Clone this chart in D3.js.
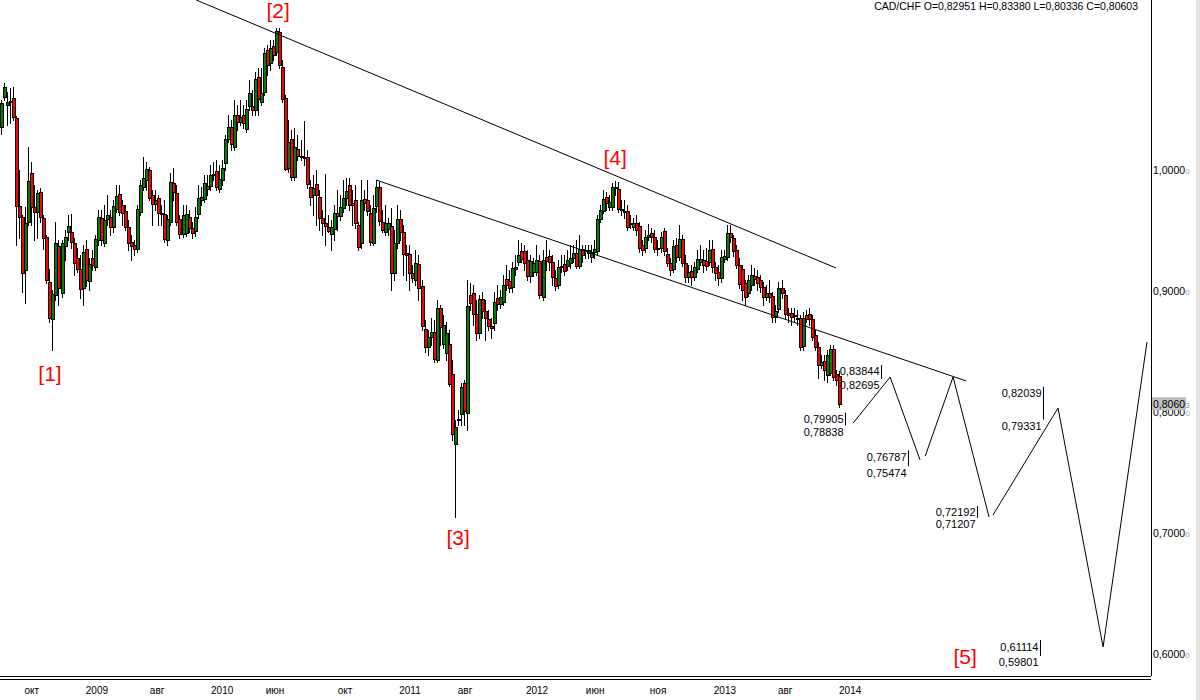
<!DOCTYPE html>
<html><head><meta charset="utf-8">
<script src="https://cdn.jsdelivr.net/npm/d3@7"></script>
<style>
html,body{margin:0;padding:0;background:#fff;}
svg{display:block;font-family:"Liberation Sans",Arial,sans-serif;}
</style></head><body>
<svg id="c" width="1200" height="700"></svg>
<script>
const symbol = "CAD/CHF";
const lastQuote = ["0,82951", "0,83380", "0,80336", "0,80603"];

const opens = [1.0351,1.0599,1.0534,1.0558,1.0591,1.0426,0.9698,0.9607,0.9170,0.9566,
0.9971,0.9690,0.9648,0.9814,0.9599,0.9442,0.9070,0.8765,0.8963,0.9368,
0.8979,0.9368,0.9483,0.9483,0.9393,0.9269,0.9178,0.9021,0.9344,0.9079,
0.9269,0.9194,0.9418,0.9599,0.9393,0.9591,0.9607,0.9525,0.9674,0.9798,
0.9707,0.9657,0.9525,0.9401,0.9377,0.9344,0.9648,0.9855,0.9913,0.9996,
0.9790,0.9715,0.9765,0.9640,0.9632,0.9418,0.9566,0.9888,0.9806,0.9591,
0.9467,0.9475,0.9607,0.9517,0.9492,0.9632,0.9748,0.9757,0.9863,0.9863,
0.9955,0.9988,0.9839,0.9913,1.0054,1.0253,1.0351,1.0186,1.0451,1.0392,
1.0451,1.0335,1.0525,1.0525,1.0492,1.0764,1.0558,1.0640,1.0988,1.0880,
1.1020,1.0971,1.1136,1.0847,1.0591,1.0013,1.0253,0.9938,1.0170,1.0111,
1.0103,1.0103,0.9855,0.9790,0.9880,0.9773,0.9599,0.9558,0.9525,0.9467,
0.9509,0.9640,0.9615,0.9682,0.9765,0.9872,0.9723,0.9748,0.9542,0.9393,
0.9757,0.9748,0.9640,0.9393,0.9698,0.9855,0.9566,0.9483,0.9509,0.9533,
0.9145,0.9393,0.9591,0.9483,0.9310,0.9302,0.9145,0.9087,0.9219,0.9037,
0.8682,0.8533,0.8616,0.8657,0.8426,0.8856,0.8558,0.8484,0.8558,0.8310,
0.7732,0.7938,0.7980,0.8236,0.7988,0.8963,0.8979,0.8806,0.8649,0.8930,
0.8831,0.8765,0.8706,0.8731,0.8938,0.8889,0.8905,0.9095,0.9079,0.9029,
0.9194,0.9235,0.9327,0.9327,0.9252,0.9120,0.9153,0.9153,0.9244,0.8946,
0.9277,0.9285,0.9235,0.9104,0.9046,0.9194,0.9219,0.9203,0.9227,0.9269,
0.9310,0.9203,0.9344,0.9335,0.9310,0.9277,0.9318,0.9327,0.9591,0.9657,
0.9773,0.9690,0.9690,0.9855,0.9839,0.9674,0.9657,0.9657,0.9558,0.9525,
0.9558,0.9533,0.9377,0.9352,0.9442,0.9475,0.9442,0.9352,0.9352,0.9492,
0.9302,0.9227,0.9178,0.9377,0.9277,0.9426,0.9227,0.9112,0.9161,0.9112,
0.9178,0.9235,0.9252,0.9244,0.9235,0.9344,0.9194,0.9153,0.9104,0.9261,
0.9277,0.9475,0.9434,0.9335,0.9211,0.9178,0.9062,0.8979,0.9046,0.9120,
0.9112,0.9087,0.9029,0.8946,0.8979,0.8954,0.8781,0.8848,0.9021,0.8963,
0.8814,0.8814,0.8798,0.8773,0.8773,0.8541,0.8798,0.8806,0.8765,0.8632,
0.8533,0.8385,0.8418,0.8302,0.8318,0.8517,0.8310,0.82951];

const highs = [1.0575,1.0715,1.0640,1.0674,1.0682,1.0442,0.9996,0.9624,0.9690,1.0186,
1.0062,0.9872,0.9831,0.9847,0.9624,0.9459,0.9178,0.9004,0.9566,0.9418,
0.9418,0.9500,0.9624,0.9632,0.9434,0.9352,0.9294,0.9377,0.9418,0.9269,
0.9335,0.9459,0.9665,0.9665,0.9707,0.9790,0.9665,0.9748,0.9872,0.9872,
0.9748,0.9707,0.9583,0.9459,0.9418,0.9707,0.9913,1.0103,1.0062,1.0021,
0.9831,0.9831,0.9790,0.9707,0.9748,0.9624,0.9971,1.0013,0.9872,0.9624,
0.9707,0.9707,0.9665,0.9566,0.9690,0.9872,0.9855,0.9955,0.9955,1.0038,
1.0062,1.0079,1.0038,1.0079,1.0286,1.0451,1.0409,1.0575,1.0534,1.0575,
1.0534,1.0575,1.0740,1.0657,1.0805,1.0839,1.0839,1.1004,1.1029,1.1070,
1.1070,1.1170,1.1170,1.0905,1.0616,1.0409,1.0327,1.0343,1.0286,1.0244,
1.0401,1.0161,0.9913,0.9955,0.9996,0.9831,0.9665,0.9963,0.9624,0.9583,
0.9707,0.9831,0.9790,0.9913,0.9930,0.9930,0.9831,0.9872,0.9566,0.9913,
0.9831,0.9913,0.9707,0.9790,0.9913,0.9896,0.9665,0.9707,0.9599,0.9682,
0.9500,0.9707,0.9665,0.9542,0.9377,0.9377,0.9211,0.9335,0.9294,0.9087,
0.8756,0.8674,0.8773,0.8756,0.8922,0.8881,0.8798,0.8739,0.8674,0.8426,
0.7930,0.8013,0.8236,0.8261,0.9087,0.9062,0.9046,0.8922,0.8963,0.8987,
0.8922,0.8839,0.8773,0.8987,0.9046,0.9004,0.9129,0.9211,0.9170,0.9235,
0.9294,0.9418,0.9393,0.9377,0.9335,0.9294,0.9269,0.9377,0.9294,0.9335,
0.9418,0.9335,0.9294,0.9170,0.9252,0.9294,0.9294,0.9335,0.9377,0.9377,
0.9418,0.9459,0.9377,0.9377,0.9377,0.9377,0.9418,0.9624,0.9707,0.9831,
0.9814,0.9790,0.9888,0.9905,0.9896,0.9748,0.9748,0.9707,0.9624,0.9599,
0.9624,0.9566,0.9418,0.9500,0.9550,0.9517,0.9500,0.9418,0.9483,0.9517,
0.9352,0.9269,0.9418,0.9434,0.9542,0.9459,0.9294,0.9211,0.9211,0.9235,
0.9335,0.9377,0.9335,0.9352,0.9418,0.9418,0.9235,0.9211,0.9335,0.9335,
0.9542,0.9542,0.9459,0.9377,0.9269,0.9211,0.9087,0.9129,0.9211,0.9186,
0.9170,0.9129,0.9070,0.9046,0.9087,0.8987,0.8881,0.9070,0.9087,0.9004,
0.8856,0.8856,0.8856,0.8839,0.8798,0.8822,0.8839,0.8856,0.8798,0.8674,
0.8574,0.8468,0.8468,0.8509,0.8550,0.8550,0.8343,0.83380];

const lows = [1.0294,1.0575,1.0368,1.0384,1.0409,0.9377,0.9434,0.8987,0.8897,0.9542,
0.9542,0.9418,0.9434,0.9566,0.9344,0.9062,0.8739,0.8509,0.8922,0.8881,
0.8946,0.9252,0.9418,0.9352,0.9129,0.9153,0.8938,0.8881,0.9037,0.9004,
0.9170,0.9170,0.9377,0.9377,0.9368,0.9542,0.9459,0.9483,0.9648,0.9624,
0.9542,0.9500,0.9335,0.9252,0.9294,0.9318,0.9624,0.9831,0.9831,0.9748,
0.9542,0.9665,0.9542,0.9542,0.9401,0.9377,0.9542,0.9748,0.9542,0.9434,
0.9442,0.9450,0.9483,0.9434,0.9450,0.9599,0.9707,0.9731,0.9790,0.9831,
0.9913,0.9831,0.9814,0.9872,0.9996,1.0227,1.0161,1.0161,1.0327,1.0368,
1.0343,1.0310,1.0492,1.0451,1.0451,1.0451,1.0534,1.0616,1.0781,1.0822,
1.0905,1.0947,1.0839,1.0558,0.9996,0.9979,0.9913,0.9913,1.0079,1.0079,
1.0038,0.9847,0.9707,0.9624,0.9542,0.9500,0.9459,0.9377,0.9483,0.9335,
0.9418,0.9500,0.9583,0.9648,0.9707,0.9665,0.9542,0.9517,0.9335,0.9352,
0.9665,0.9624,0.9377,0.9377,0.9648,0.9542,0.9483,0.9459,0.9459,0.9004,
0.9087,0.9352,0.9418,0.9129,0.9087,0.9004,0.9070,0.9046,0.8922,0.8674,
0.8492,0.8468,0.8550,0.8409,0.8409,0.8550,0.8525,0.8426,0.8211,0.7765,
0.7128,0.7889,0.7889,0.7889,0.7847,0.8839,0.8715,0.8591,0.8608,0.8773,
0.8591,0.8674,0.8608,0.8674,0.8839,0.8856,0.8881,0.9004,0.8987,0.8987,
0.9129,0.9211,0.9235,0.9170,0.9087,0.9070,0.9120,0.9129,0.8938,0.8922,
0.9170,0.9170,0.9046,0.9004,0.9021,0.9153,0.9129,0.9170,0.9186,0.9235,
0.9186,0.9186,0.9235,0.9269,0.9269,0.9235,0.9269,0.9294,0.9566,0.9640,
0.9665,0.9665,0.9665,0.9790,0.9648,0.9624,0.9599,0.9500,0.9517,0.9500,
0.9459,0.9318,0.9294,0.9318,0.9418,0.9401,0.9318,0.9294,0.9318,0.9294,
0.9203,0.9129,0.9153,0.9235,0.9252,0.9203,0.9070,0.9070,0.9046,0.9087,
0.9153,0.9211,0.9153,0.9170,0.9211,0.9153,0.9087,0.9046,0.9070,0.9235,
0.9252,0.9401,0.9285,0.9186,0.9021,0.8922,0.8881,0.8954,0.9004,0.9046,
0.9004,0.8987,0.8881,0.8922,0.8905,0.8739,0.8739,0.8822,0.8938,0.8773,
0.8739,0.8715,0.8739,0.8715,0.8509,0.8509,0.8739,0.8715,0.8591,0.8509,
0.8277,0.8360,0.8261,0.8244,0.8302,0.8261,0.8220,0.80336];

const closes = [1.0550,1.0682,1.0558,1.0567,1.0434,0.9698,0.9607,0.9145,0.9558,0.9905,
0.9690,0.9648,0.9806,0.9607,0.9434,0.9087,0.8773,0.8971,0.9393,0.9021,
0.9393,0.9442,0.9533,0.9401,0.9227,0.9178,0.9013,0.9318,0.9087,0.9219,
0.9211,0.9426,0.9607,0.9418,0.9583,0.9624,0.9525,0.9698,0.9781,0.9648,
0.9640,0.9525,0.9393,0.9368,0.9344,0.9674,0.9872,0.9930,1.0005,0.9765,
0.9715,0.9748,0.9640,0.9632,0.9426,0.9591,0.9896,0.9814,0.9566,0.9467,
0.9624,0.9632,0.9517,0.9475,0.9607,0.9765,0.9773,0.9888,0.9839,0.9955,
0.9963,0.9855,0.9922,1.0013,1.0253,1.0351,1.0211,1.0451,1.0392,1.0434,
1.0384,1.0501,1.0632,1.0492,1.0748,1.0583,1.0632,1.0963,1.0864,1.1004,
1.0947,1.1145,1.0864,1.0583,1.0005,1.0227,0.9938,1.0186,1.0111,1.0103,
1.0095,0.9880,0.9773,0.9847,0.9790,0.9599,0.9558,0.9533,0.9492,0.9525,
0.9640,0.9615,0.9690,0.9765,0.9823,0.9707,0.9707,0.9558,0.9360,0.9748,
0.9723,0.9657,0.9401,0.9682,0.9855,0.9575,0.9500,0.9558,0.9558,0.9145,
0.9393,0.9591,0.9483,0.9302,0.9294,0.9145,0.9104,0.9227,0.9021,0.8706,
0.8533,0.8616,0.8657,0.8435,0.8856,0.8698,0.8715,0.8649,0.8228,0.7814,
0.7872,0.7930,0.8203,0.8005,0.8872,0.8897,0.8806,0.8649,0.8930,0.8831,
0.8773,0.8706,0.8690,0.8905,0.8889,0.8946,0.9046,0.9046,0.9021,0.9186,
0.9178,0.9294,0.9261,0.9227,0.9120,0.9244,0.9227,0.9252,0.8963,0.9252,
0.9244,0.9235,0.9112,0.9037,0.9194,0.9203,0.9161,0.9252,0.9269,0.9310,
0.9203,0.9344,0.9294,0.9327,0.9335,0.9318,0.9344,0.9591,0.9665,0.9757,
0.9723,0.9731,0.9855,0.9847,0.9674,0.9665,0.9648,0.9525,0.9550,0.9558,
0.9500,0.9352,0.9335,0.9442,0.9459,0.9442,0.9344,0.9345,0.9442,0.9327,
0.9227,0.9170,0.9368,0.9277,0.9426,0.9227,0.9112,0.9153,0.9112,0.9194,
0.9261,0.9261,0.9211,0.9203,0.9335,0.9194,0.9145,0.9104,0.9277,0.9285,
0.9475,0.9442,0.9327,0.9211,0.9054,0.9004,0.8946,0.9087,0.9129,0.9095,
0.9062,0.9029,0.8946,0.8979,0.8946,0.8781,0.8831,0.9021,0.8979,0.8806,
0.8798,0.8781,0.8790,0.8768,0.8533,0.8773,0.8765,0.8765,0.8616,0.8533,
0.8385,0.8409,0.8343,0.8468,0.8517,0.8285,0.8261,0.80603];

const priceTicks = [0.6, 0.7, 0.8, 0.9, 1.0];
const timeLabels = ["окт","2009","авг","2010","июн","окт","2011","авг","2012","июн","ноя","2013","авг","2014"];
const timeLabelBar = [10.2, 31.7, 51.6, 73.1, 90.6, 113.7, 135.2, 153.4, 177.2, 196.4, 217.2, 239.3, 259.2, 280.7];

const waveNames = ["[1]","[2]","[3]","[4]","[5]"];
const waveBar = [16.2, 91.6, 151.1, 203.0, 318.7];
const wavePrice = [0.8318, 1.1318, 0.6955, 1.0103, 0.5979];

const trendUpperBar = [64.5, 276.0];
const trendUpperPrice = [1.1401, 0.9186];
const trendLowerBar = [124.0, 319.0];
const trendLowerPrice = [0.9913, 0.8253];

const pathBarA = [281.7, 293.9, 303.8];
const pathPriceA = [0.7905, 0.8285, 0.7599];
const pathBarB = [305.5, 314.7, 326.6];
const pathPriceB = [0.7632, 0.8285, 0.7128];
const pathBarC = [327.9, 349.4, 364.3, 378.8];
const pathPriceC = [0.7145, 0.8029, 0.6054, 0.8574];

const targetHi = [0.83844, 0.79905, 0.76787, 0.72192, 0.82039, 0.61114];
const targetLo = [0.82695, 0.78838, 0.75474, 0.71207, 0.79331, 0.59801];
const targetBar = [290.9, 279.0, 299.8, 322.6, 344.5, 343.5];

const lastPrice = 0.80603;

// ---------- drawing ----------
const svg = d3.select("#c");
const W = 1200, H = 700, plotR = 1151, plotB = 676;
const N = closes.length;
const x = d3.scaleLinear().domain([0, N - 1]).range([1, 839]);
const y = d3.scaleLinear().domain([0.6, 1.0]).range([653.5, 169.5]);

svg.append("rect").attr("width", W).attr("height", H).attr("fill", "#fff");
svg.append("defs").append("clipPath").attr("id", "plot")
  .append("rect").attr("x", 0).attr("y", 0).attr("width", plotR).attr("height", plotB);

const g = svg.append("g").attr("clip-path", "url(#plot)");

// candles
const data = d3.range(N).map(i => ({i, o: opens[i], h: highs[i], l: lows[i], c: closes[i]}));
const cg = g.append("g").attr("shape-rendering", "crispEdges");
data.forEach(d => {
  const px = Math.round(x(d.i));
  const yh = Math.round(y(Math.max(d.h, d.o, d.c)));
  const yl = Math.round(y(Math.min(d.l, d.o, d.c)));
  cg.append("rect").attr("x", px).attr("y", yh).attr("width", 1).attr("height", Math.max(1, yl - yh + 1)).attr("fill", "#000");
});
data.forEach(d => {
  const px = Math.round(x(d.i));
  const yt = Math.round(y(Math.max(d.o, d.c)));
  const yb = Math.round(y(Math.min(d.o, d.c)));
  const hgt = Math.max(1, yb - yt + 1);
  cg.append("rect").attr("x", px - 1).attr("y", yt).attr("width", 4).attr("height", hgt).attr("fill", "#000");
  if (hgt > 2) {
    cg.append("rect").attr("x", px).attr("y", yt + 1).attr("width", 2).attr("height", hgt - 2)
      .attr("fill", d.c >= d.o ? "#008000" : "#ff0000");
  }
});

// trend lines
const line = d3.line().x(p => x(p[0])).y(p => y(p[1]));
const lg = g.append("g").attr("fill", "none").attr("stroke", "#000").attr("stroke-width", 1);
lg.append("path").attr("d", line(d3.zip(trendUpperBar, trendUpperPrice)));
lg.append("path").attr("d", line(d3.zip(trendLowerBar, trendLowerPrice)));
lg.append("path").attr("d", line(d3.zip(pathBarA, pathPriceA)));
lg.append("path").attr("d", line(d3.zip(pathBarB, pathPriceB)));
lg.append("path").attr("d", line(d3.zip(pathBarC, pathPriceC)));

// target zones
const fmt = v => v.toFixed(5).replace(".", ",");
targetHi.forEach((hi, k) => {
  const bx = Math.round(x(targetBar[k])) + 0.5;
  g.append("line").attr("x1", bx).attr("x2", bx).attr("y1", y(hi)).attr("y2", y(targetLo[k]))
    .attr("stroke", "#000").attr("stroke-width", 1);
  g.append("text").attr("x", bx - 2).attr("y", y(hi) + 10.5).attr("text-anchor", "end")
    .attr("font-size", "11px").attr("fill", "#000").text(fmt(hi));
  g.append("text").attr("x", bx - 2).attr("y", y(targetLo[k]) + 10.5).attr("text-anchor", "end")
    .attr("font-size", "11px").attr("fill", "#000").text(fmt(targetLo[k]));
});

// wave labels
waveNames.forEach((t, k) => {
  g.append("text").attr("x", x(waveBar[k])).attr("y", y(wavePrice[k]))
    .attr("text-anchor", "middle").attr("dominant-baseline", "central")
    .attr("font-size", "21px").attr("fill", "#ff0000").text(t);
});

// frame
svg.append("line").attr("x1", plotR + 0.5).attr("x2", plotR + 0.5).attr("y1", 0).attr("y2", plotB)
  .attr("stroke", "#000");
svg.append("line").attr("x1", 0).attr("x2", plotR).attr("y1", plotB + 0.5).attr("y2", plotB + 0.5).attr("stroke", "#000");
svg.append("line").attr("x1", 0).attr("x2", plotR).attr("y1", plotB + 3.5).attr("y2", plotB + 3.5).attr("stroke", "#000");
svg.append("rect").attr("x", 1196).attr("y", 0).attr("width", 4).attr("height", H).attr("fill", "#e4e4e4");

// price axis
const pa = svg.append("g").attr("font-size", "10.5px");
priceTicks.forEach(v => {
  const t = pa.append("text").attr("x", plotR + 2).attr("y", y(v) + 4);
  t.append("tspan").attr("fill", "#000").text(fmt(v).slice(0, 6));
  t.append("tspan").attr("fill", "#a0a0a0").attr("font-size", "8px").text(fmt(v).slice(6));
});
// last price marker
const ly = y(lastPrice);
pa.append("rect").attr("x", plotR + 1).attr("y", ly - 7).attr("width", 34).attr("height", 13).attr("fill", "#c0c0c0");
const lt = pa.append("text").attr("x", plotR + 2).attr("y", ly + 4);
lt.append("tspan").attr("fill", "#000").text(fmt(lastPrice).slice(0, 6));
lt.append("tspan").attr("fill", "#909090").attr("font-size", "8px").text(fmt(lastPrice).slice(6));

// time axis
const ta = svg.append("g").attr("font-size", "10px").attr("fill", "#000");
timeLabels.forEach((t, k) => {
  ta.append("text").attr("x", x(timeLabelBar[k])).attr("y", 694).attr("text-anchor", "middle").text(t);
});

// title
svg.append("text").attr("x", 1138).attr("y", 10).attr("text-anchor", "end").attr("font-size", "10.5px")
  .attr("fill", "#000")
  .text(`${symbol} O=${lastQuote[0]} H=${lastQuote[1]} L=${lastQuote[2]} C=${lastQuote[3]}`);
</script>
</body></html>
